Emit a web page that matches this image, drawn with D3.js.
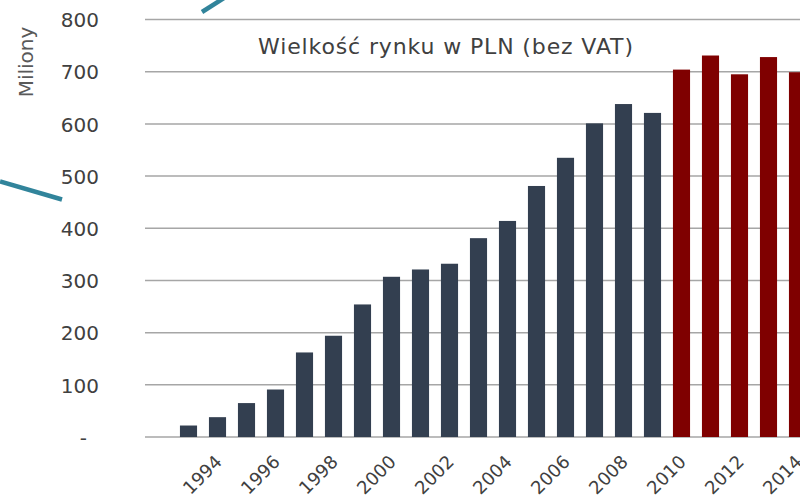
<!DOCTYPE html>
<html>
<head>
<meta charset="utf-8">
<script src="https://cdn.jsdelivr.net/npm/d3@7"></script>
<style>
  html, body { margin: 0; padding: 0; background: #fff; }
  svg { display: block; }
  text { font-family: "DejaVu Sans", sans-serif; }
</style>
</head>
<body>
<script>
// Market size per year, in millions of PLN (excluding VAT)
const years = [1993, 1994, 1995, 1996, 1997, 1998, 1999, 2000, 2001, 2002, 2003,
               2004, 2005, 2006, 2007, 2008, 2009, 2010, 2011, 2012, 2013, 2014];
const values = [22, 38, 65, 91, 162, 194, 254, 307, 321, 332, 381,
                414, 481, 535, 601, 638, 621, 704, 731, 695, 728, 699];
// Years from 2010 on are highlighted in red
const highlightFrom = 2010;
const yTicks = [0, 100, 200, 300, 400, 500, 600, 700, 800];
const tickLabels = years.filter(y => y % 2 === 0);
const chartTitle = "Wielkość rynku w PLN (bez VAT)";
const yTitle = "Miliony";

const W = 800, H = 499;
const svg = d3.select("body").append("svg").attr("width", W).attr("height", H);

const x = d3.scaleBand()
  .domain(years)
  .range([145, 841])
  .paddingInner(0.41)
  .paddingOuter(1.205);

const y = d3.scaleLinear().domain([0, 800]).range([437, 19.5]);

// Horizontal gridlines
svg.append("g")
  .selectAll("line")
  .data(yTicks)
  .join("line")
  .attr("x1", 145).attr("x2", W)
  .attr("y1", d => y(d)).attr("y2", d => y(d))
  .attr("stroke", "#a6a6a6")
  .attr("stroke-width", 1.5);

// Y axis labels (zero shown as a dash)
const yAxis = d3.axisLeft(y)
  .tickValues(yTicks)
  .tickSize(0)
  .tickPadding(0)
  .tickFormat(d => d === 0 ? "-" : d);
const gy = svg.append("g").attr("transform", "translate(99,0)").call(yAxis);
gy.select(".domain").remove();
gy.selectAll("text")
  .attr("font-family", "DejaVu Sans, sans-serif")
  .attr("font-size", 20)
  .attr("fill", "#404040")
  .attr("dy", "0.36em");
gy.selectAll(".tick").filter(d => d === 0).select("text").attr("dx", -12);

// Bars
svg.append("g")
  .selectAll("rect")
  .data(years.map((yr, i) => ({ year: yr, value: values[i] })))
  .join("rect")
  .attr("x", d => x(d.year))
  .attr("width", x.bandwidth())
  .attr("y", d => y(d.value))
  .attr("height", d => y(0) - y(d.value))
  .attr("fill", d => d.year >= highlightFrom ? "#7f0000" : "#333f50");

// X axis labels, rotated
const xAxis = d3.axisBottom(x)
  .tickValues(tickLabels)
  .tickSize(0)
  .tickPadding(0);
const gx = svg.append("g").attr("transform", `translate(0,${y(0)})`).call(xAxis);
gx.select(".domain").remove();
gx.selectAll("text")
  .attr("font-family", "DejaVu Sans, sans-serif")
  .attr("font-size", 18)
  .attr("fill", "#404040")
  .attr("text-anchor", "end")
  .attr("dy", null)
  .attr("y", 0)
  .attr("transform", "translate(5.5,26) rotate(-45)");

// Chart title
svg.append("text")
  .attr("x", 445.5).attr("y", 54)
  .attr("text-anchor", "middle")
  .attr("font-size", 22)
  .attr("textLength", 375)
  .attr("lengthAdjust", "spacing")
  .attr("fill", "#404040")
  .text(chartTitle);

// Y axis title
svg.append("text")
  .attr("transform", "translate(33,62) rotate(-90)")
  .attr("text-anchor", "middle")
  .attr("font-size", 20)
  .attr("fill", "#595959")
  .text(yTitle);

// Teal accent strokes of the slide background
const accents = [
  [[0, 181.5], [62, 199.5]],
  [[202, 12], [224, -2]]
];
svg.append("g")
  .selectAll("path")
  .data(accents)
  .join("path")
  .attr("d", d => d3.line()(d))
  .attr("stroke", "#31849b")
  .attr("stroke-width", 4.5)
  .attr("fill", "none");
</script>
</body>
</html>
